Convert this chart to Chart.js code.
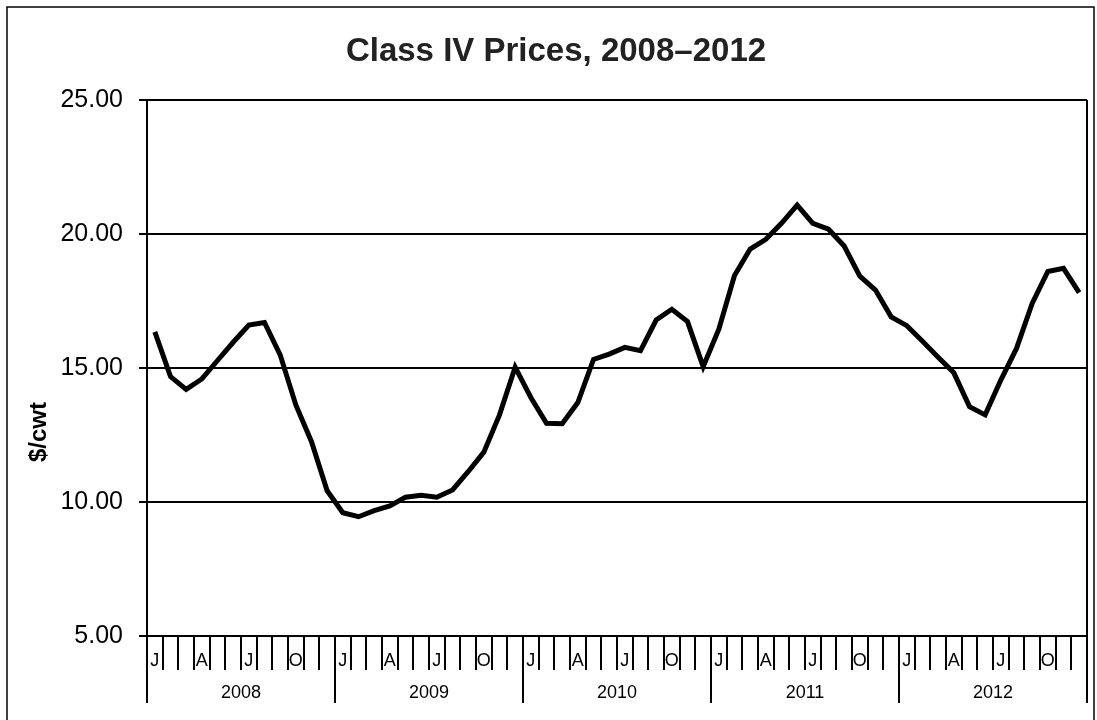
<!DOCTYPE html>
<html>
<head>
<meta charset="utf-8">
<script src="https://cdn.jsdelivr.net/npm/chart.js@4/dist/chart.umd.min.js"></script>
<style>
  html, body { margin: 0; padding: 0; background: #fff; }
  #wrap { width: 1097px; height: 720px; position: relative; }
</style>
</head>
<body>
<div id="wrap"><canvas id="chart"></canvas></div>
<script>
// Datos
const years = ["2008", "2009", "2010", "2011", "2012"];
const monthLetters = ["J", "F", "M", "A", "M", "J", "J", "A", "S", "O", "N", "D"];
const yTicks = [5, 10, 15, 20, 25];

const prices2008 = [16.35, 14.68, 14.20, 14.59, 15.28, 15.96, 16.60, 16.70, 15.49, 13.62, 12.25, 10.42];
const prices2009 = [9.60, 9.45, 9.68, 9.85, 10.18, 10.25, 10.18, 10.45, 11.13, 11.86, 13.25, 15.03];
const prices2010 = [13.90, 12.94, 12.92, 13.71, 15.32, 15.52, 15.77, 15.65, 16.79, 17.19, 16.73, 15.05];
const prices2011 = [16.45, 18.45, 19.44, 19.80, 20.40, 21.08, 20.40, 20.18, 19.55, 18.43, 17.91, 16.91];
const prices2012 = [16.58, 16.00, 15.40, 14.82, 13.56, 13.25, 14.55, 15.73, 17.41, 18.60, 18.72, 17.81];

const labels = [];
years.forEach(y => monthLetters.forEach((m, i) => labels.push(m + " " + y)));
const prices = [].concat(prices2008, prices2009, prices2010, prices2011, prices2012);

const FONT = "'Liberation Sans', Arial, sans-serif";

// Marco, separadores de año, etiquetas de año y titulo del eje
const decorPlugin = {
  id: "decor",
  beforeDraw(chart) {
    const ctx = chart.ctx;
    ctx.save();
    ctx.fillStyle = "#fff";
    ctx.fillRect(0, 0, chart.width, chart.height);
    ctx.strokeStyle = "#000";
    ctx.lineWidth = 1.5;
    ctx.beginPath();
    ctx.moveTo(7, chart.height);
    ctx.lineTo(7, 7);
    ctx.lineTo(1094, 7);
    ctx.lineTo(1094, chart.height);
    ctx.stroke();
    ctx.restore();
  },
  afterDraw(chart) {
    const ctx = chart.ctx;
    const x = chart.scales.x;
    const area = chart.chartArea;
    const half = (x.getPixelForValue(1) - x.getPixelForValue(0)) / 2;
    ctx.save();
    ctx.strokeStyle = "#000";
    ctx.lineWidth = 2;
    // borde derecho del area
    ctx.beginPath();
    ctx.moveTo(area.right, area.top);
    ctx.lineTo(area.right, area.bottom);
    ctx.stroke();
    // separadores de año
    for (let i = 0; i <= years.length; i++) {
      const idx = Math.min(i * 12, labels.length - 1);
      const px = i * 12 < labels.length ? x.getPixelForValue(idx) - half : x.getPixelForValue(idx) + half;
      ctx.beginPath();
      ctx.moveTo(px, area.bottom);
      ctx.lineTo(px, area.bottom + 67);
      ctx.stroke();
    }
    // etiquetas de año
    ctx.fillStyle = "#000";
    ctx.font = "18px " + FONT;
    ctx.textAlign = "center";
    ctx.textBaseline = "middle";
    years.forEach((y, i) => {
      const cx = (x.getPixelForValue(i * 12) + x.getPixelForValue(i * 12 + 11)) / 2;
      ctx.fillText(y, cx, area.bottom + 57);
    });
    // titulo eje Y
    ctx.translate(39, 432);
    ctx.rotate(-Math.PI / 2);
    ctx.font = "bold 24px " + FONT;
    ctx.fillText("$/cwt", 0, 0);
    ctx.restore();
  }
};

new Chart(document.getElementById("chart"), {
  type: "line",
  data: {
    labels,
    datasets: [{
      label: "Class IV",
      data: prices,
      borderColor: "#000",
      borderWidth: 5,
      pointRadius: 0,
      tension: 0,
      fill: false
    }]
  },
  options: {
    responsive: true,
    maintainAspectRatio: false,
    animation: false,
    layout: { padding: { left: 25, right: 10, top: 0, bottom: 0 } },
    plugins: {
      legend: { display: false },
      tooltip: { enabled: false },
      title: {
        display: true,
        text: "Class IV Prices, 2008\u20132012",
        color: "#222",
        font: { family: FONT, size: 33, weight: "bold" },
        padding: { top: 32, bottom: 28.4 }
      }
    },
    scales: {
      x: {
        offset: true,
        grid: { offset: true, drawOnChartArea: false, color: "#000", lineWidth: 2, tickLength: 34 },
        border: { color: "#000", width: 2 },
        ticks: {
          autoSkip: false,
          maxRotation: 0,
          color: "#000",
          padding: -20,
          font: { family: FONT, size: 18 },
          callback: (v, i) => (i % 3 === 0 ? monthLetters[i % 12] : "")
        },
        afterFit(scale) { scale.height = 84; }
      },
      y: {
        min: yTicks[0],
        max: yTicks[yTicks.length - 1],
        afterBuildTicks(scale) { scale.ticks = yTicks.map(v => ({ value: v })); },
        grid: { color: "#000", lineWidth: 2, tickLength: 8 },
        border: { color: "#000", width: 2 },
        ticks: {
          color: "#000",
          padding: 16,
          font: { family: FONT, size: 25 },
          callback: v => v.toFixed(2)
        },
        afterFit(scale) { scale.width = 122; }
      }
    }
  },
  plugins: [decorPlugin]
});
</script>
</body>
</html>
